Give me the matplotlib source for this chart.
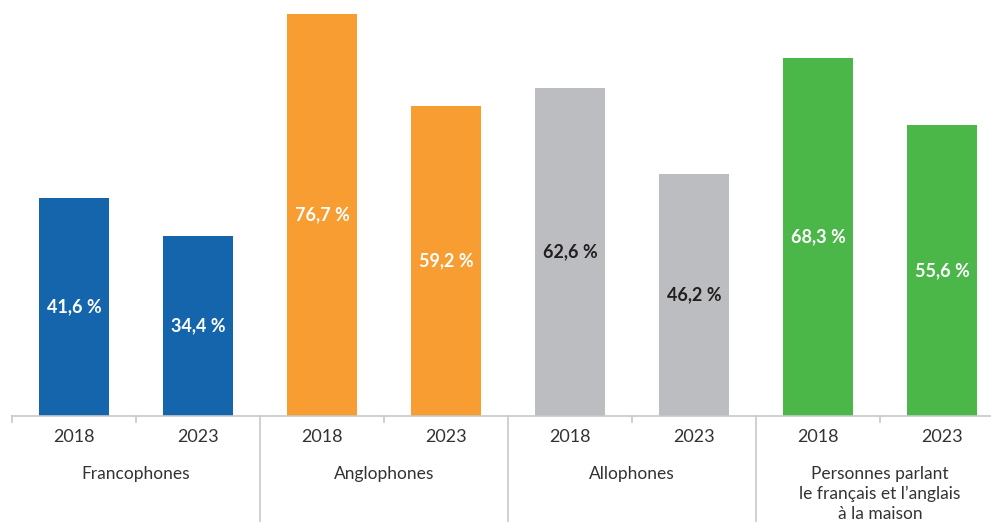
import numpy as np
import matplotlib
matplotlib.use("Agg")
from matplotlib import pyplot as plt
import matplotlib.transforms as mtransforms

groups = ["Francophones", "Anglophones", "Allophones",
          "Personnes parlant\nle français et l’anglais\nà la maison"]
years = ["2018", "2023"]
values_2018 = [41.6, 76.7, 62.6, 68.3]
values_2023 = [34.4, 59.2, 46.2, 55.6]
colors = ["#1565ac", "#f79d32", "#bcbdc0", "#4bb749"]
label_colors = ["white", "white", "#231f20", "white"]

plt.rcParams['font.family'] = ['Lato', 'DejaVu Sans']

fig = plt.figure(figsize=(9.91, 5.22), dpi=100)
ax = fig.add_axes([12 / 991, 106 / 522, 992 / 991, 416 / 522])

n = len(groups)
x = np.arange(n * 2)
vals = []
cols = []
tcols = []
for i in range(n):
    vals += [values_2018[i], values_2023[i]]
    cols += [colors[i]] * 2
    tcols += [label_colors[i]] * 2

ax.bar(x, vals, width=0.56, color=cols, zorder=2)
for xi, v, tc in zip(x, vals, tcols):
    ax.text(xi, v / 2, f"{v:.1f} %".replace(".", ","), ha="center", va="center",
            color=tc, fontsize=13, fontweight="bold")

ax.set_xlim(-0.5, n * 2 - 0.5)
ax.set_ylim(0, 79.4)
for s in ["top", "right", "left"]:
    ax.spines[s].set_visible(False)
ax.spines["bottom"].set_color("#c8c8c8")
ax.spines["bottom"].set_linewidth(1.2)
ax.set_yticks([])
ax.set_xticks([])

trans = mtransforms.blended_transform_factory(ax.transData, ax.transAxes)
line_c = "#c8c8c8"
# small ticks at every slot boundary, long lines between groups
for b in np.arange(-0.5, n * 2, 1.0):
    k = int(b + 0.5)
    if k % 2 == 0 and 0 < k < n * 2:
        ax.plot([b, b], [0, -106 / 416], transform=trans, color=line_c,
                lw=1.2, clip_on=False)
    else:
        ax.plot([b, b], [0, -6 / 416], transform=trans, color=line_c,
                lw=1.2, clip_on=False)

for xi in x:
    ax.text(xi, -21 / 416, years[xi % 2], transform=trans, ha="center",
            va="center", fontsize=13, color="#333333")
for i, g in enumerate(groups):
    ax.text(2 * i + 0.5, -50 / 416, g, transform=trans, ha="center",
            va="top", fontsize=12.5, color="#333333", linespacing=1.3)

plt.savefig("out.png", dpi=100)
